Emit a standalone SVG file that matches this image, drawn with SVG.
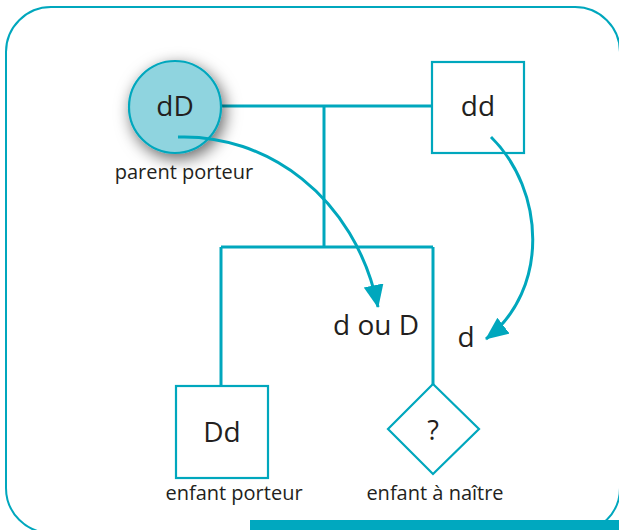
<svg xmlns="http://www.w3.org/2000/svg" width="619" height="530" viewBox="0 0 619 530">
<style>
.ln{fill:none;stroke:#00a7bd;stroke-width:3}
.shp{fill:#fff;stroke:#00a7bd;stroke-width:2.2}
.lbl{font-family:"Open Sans","Noto Sans",sans-serif;fill:#231f20;text-anchor:middle}
.big{font-size:28px}
.sm{font-size:20px}
</style>
<defs>
<filter id="sh" x="-60%" y="-60%" width="220%" height="220%">
<feDropShadow dx="3" dy="5" stdDeviation="8" flood-color="#000" flood-opacity="0.6"/>
</filter>
<marker id="ah" markerUnits="userSpaceOnUse" markerWidth="26" markerHeight="22" refX="22" refY="10" orient="auto">
<path d="M0,0 L23,10 L0,20 Z" fill="#00a7bd"/>
</marker>
</defs>
<rect x="6" y="7" width="614" height="526" rx="45" fill="none" stroke="#00a7bd" stroke-width="2"/>
<rect x="250" y="520" width="369" height="10" fill="#00a8bf"/>
<g id="connectors">
<path class="ln" d="M220,106 H432"/>
<path class="ln" d="M324,106 V247"/>
<path class="ln" d="M221,247 H433"/>
<path class="ln" d="M221,247 V386"/>
<path class="ln" d="M433,247 V385"/>
</g>
<g id="parent-porteur">
<circle cx="175" cy="107" r="46" fill="#8fd4df" stroke="#00a7bd" stroke-width="2.2" filter="url(#sh)"/>
<text class="lbl big" x="175" y="116">dD</text>
<text class="lbl sm" x="184" y="179">parent porteur</text>
</g>
<g id="parent-dd">
<rect class="shp" x="432" y="62" width="92" height="91"/>
<text class="lbl big" x="478" y="116">dd</text>
</g>
<g id="enfant-porteur">
<rect class="shp" x="176" y="386" width="92" height="92"/>
<text class="lbl big" x="222" y="442">Dd</text>
<text class="lbl sm" x="234" y="500">enfant porteur</text>
</g>
<g id="enfant-a-naitre">
<path class="shp" d="M433,384 L479,429 L433,474 L388,429 Z"/>
<text class="lbl" x="433" y="440" style="font-size:27px">?</text>
<text class="lbl sm" x="435" y="500">enfant à naître</text>
</g>
<g id="arrows">
<path class="ln" d="M178,137 C265,134 355,195 378,307" marker-end="url(#ah)"/>
<path class="ln" d="M491,137 C545,190 550,290 486,339" marker-end="url(#ah)"/>
</g>
<g id="labels">
<text class="lbl big" x="376" y="335">d ou D</text>
<text class="lbl big" x="466" y="347">d</text>
</g>
</svg>
